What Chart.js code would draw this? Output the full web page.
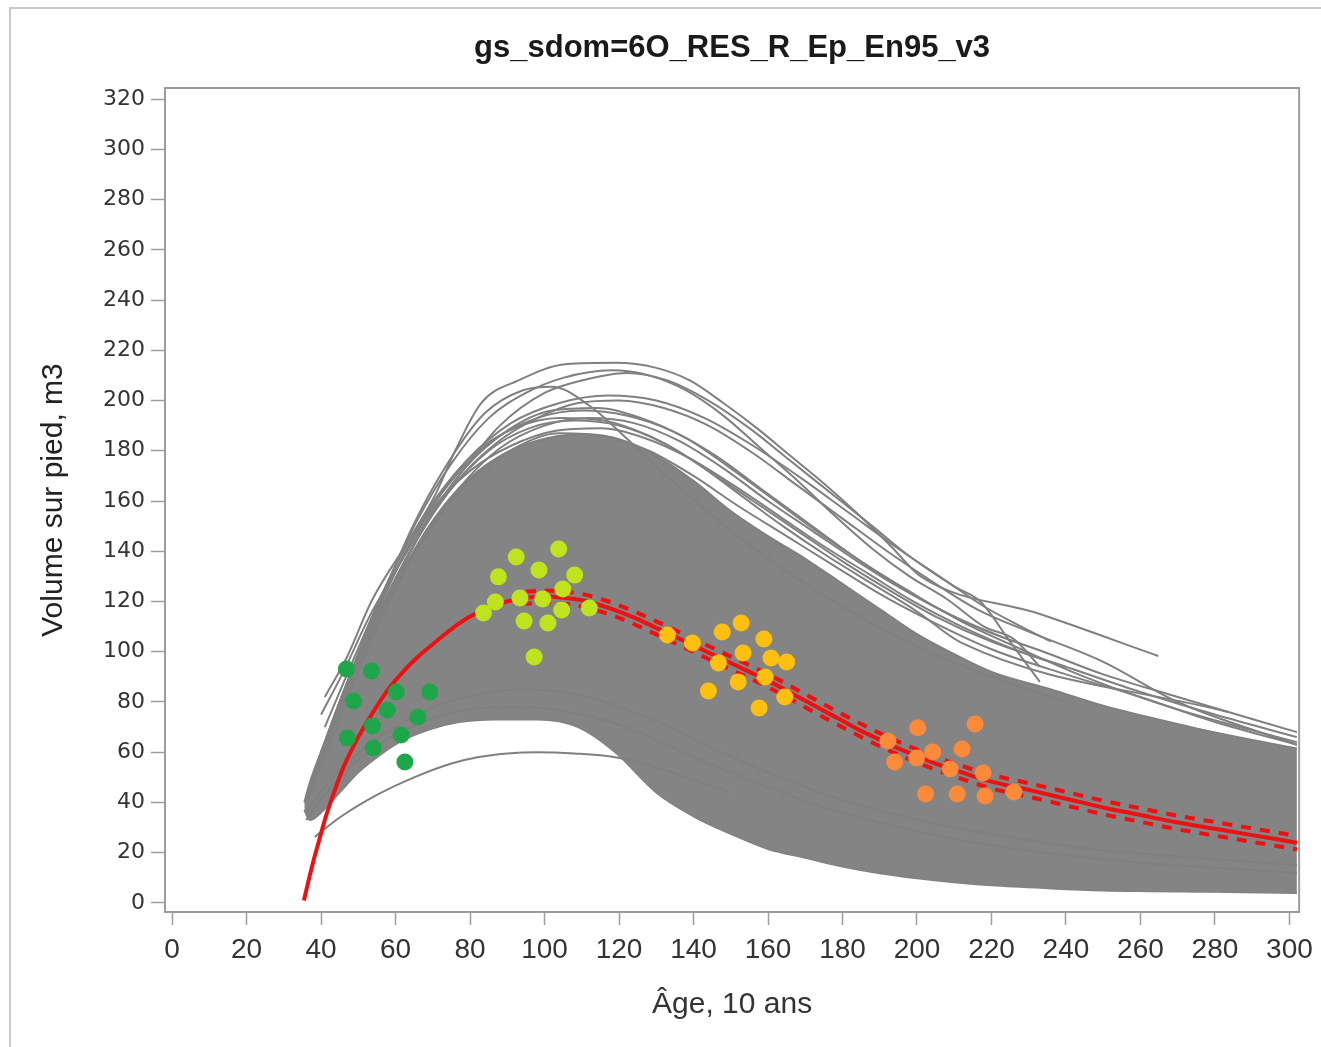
<!DOCTYPE html>
<html>
<head>
<meta charset="utf-8">
<script src="https://cdn.jsdelivr.net/npm/chart.js@4.4.1/dist/chart.umd.min.js"></script>
<style>
html,body{margin:0;padding:0;background:#fff;}
#wrap{position:relative;width:1321px;height:1047px;}
canvas{display:block;}
</style>
</head>
<body>
<div id="wrap"><canvas id="c" width="1321" height="1047"></canvas></div>
<script>
// ---------- axis ticks ----------
const xTicks = [0,20,40,60,80,100,120,140,160,180,200,220,240,260,280,300];
const yTicks = [0,20,40,60,80,100,120,140,160,180,200,220,240,260,280,300,320];

// ---------- dense band of simulated curves (envelope) ----------
const envAges  = [35.5,37,40,45,50,55,61,69,77,87,98,109,119,130,140,150,160,170,180,190,200,210,220,236,250,262,275,288,302];
const envUpper = [40,48,60,80,98,113,130,150,165,177,184,186.5,185,178,168,156,146,137,127,117,107,99,92,85,78.5,74,69.5,65.5,61.5];
const envLower = [37,33,36,44,52,58,64,69,72,73,73,70,60,44,34.5,27.5,21.5,18,14.5,11.8,9.8,8.2,7,5.8,5,4.7,4.5,4.3,4];

// ---------- individual curves (age, volume) ----------
const curveT1 = [[41,82],[47,98],[53.5,120],[62.5,142],[70.5,162],[76,180],[83,199],[93,208],[106,214.5],[119,215],[130,213],[139,208],[148,199],[157,189],[166,178],[175,167],[184,155],[193,142],[201,130],[233,115],[264.8,98.3]];
const curveT2 = [[40,75],[46,92],[53,114],[62,137],[70,156],[78,172],[88,190],[100,203],[110,208],[122,211],[133,208],[144,200],[155,189],[166,176],[177,163],[188,150],[198,138],[210,126],[217,120],[225,104],[233,88]];
const curveT3 = [[38,52],[45,80],[55,118],[65,150],[75,175],[85,193],[95,203],[105,209],[118,212],[128,210],[138,204],[148,194],[158,181],[168,168],[178,154],[188,141],[198,130],[208,121],[218,110],[226,105],[233,94]];
const curveT5 = [[38,50],[45,78],[54,112],[64,148],[74,175],[84,195],[94,204],[102,205.5],[112,198],[122,185],[132,171],[142,158],[152,146],[165,132],[180,118],[200,102],[220,90],[240,80]];
const curveT6 = [[37,45],[44,72],[52,104],[62,138],[72,163],[82,180],[92,189],[104,193],[116,192],[128,186],[140,176],[152,163],[164,150],[176,138],[188,127],[200,116],[212,103.5],[283.5,76]];
const curveT7 = [[40,60],[48,88],[57,118],[67,148],[78,172],[90,188],[102,196],[114,197],[126,193],[138,185],[150,173],[162,160],[174,147],[186,135],[198,124],[212,112],[228,101],[245,90],[270,77],[302,64]];
const curveT8 = [[36,40],[42,62],[50,92],[60,125],[70,150],[80,168],[92,181],[104,187],[116,186],[128,180],[140,170],[152,158],[165,146],[178,134],[190,123],[204,112],[220,101],[240,91],[260,82],[280,72],[302,63]];
const curveT9 = [[37,46],[44,74],[52,106],[61,135],[70,157],[80,172],[91,182],[103,188],[115,189],[127,185],[139,177],[151,166],[163,154],[175,142],[187,131],[199,120],[212,110],[226,101],[242,93],[260,84],[280,75],[302,66]];
const curveT10 = [[39,56],[46,84],[55,116],[65,146],[75,168],[86,184],[98,193],[110,196],[122,194],[134,188],[146,178],[158,165],[170,152],[182,139],[194,127],[206,117],[219,108],[234,100],[250,91],[270,82],[302,68]];
const curveT12 = [[41,70],[49,98],[58,128],[68,155],[79,176],[91,191],[104,199],[117,202],[130,200],[143,193],[156,182],[169,169],[182,155],[195,141],[207,129],[218,118],[228,110],[236,104]];
const curveT13 = [[37,44],[45,76],[54,110],[64,140],[74,163],[85,180],[96,189],[108,192],[120,190],[132,183],[144,172],[156,160],[168,148],[180,136],[192,125],[205,114],[220,104],[240,94]];
const curveT14 = [[39,52],[47,84],[56,114],[66,142],[77,165],[88,181],[100,190],[112,193],[124,191],[136,184],[148,173],[160,160],[172,148],[184,136],[196,125],[210,114],[226,104]];
const curveT15 = [[38,48],[46,82],[55,114],[65,143],[76,167],[87,183],[98,193],[109,199],[120,200],[132,197],[144,190],[156,179],[168,166],[180,153],[192,140],[204,128],[216,117],[230,108],[250,96],[270,80],[302,63]];
const curveL1 = [[38.3,26.3],[45,34],[55,43],[65,50],[75,55.5],[82,58],[90,59.5],[98,60],[108,59.5],[119,58],[130,54],[140,49],[150,44]];
const curveL2 = [[36,33],[42,45],[50,57],[60,67],[70,73.5],[80,77],[90,78],[100,77.5],[110,75],[120,71],[130,65],[140,58],[150,52],[162,45],[175,38],[190,32],[205,27],[220,23],[240,19],[260,16],[280,14],[302,12]];
const curveL3 = [[36,36],[43,50],[52,62],[62,72],[72,79],[82,83],[92,85],[102,84.5],[112,82],[122,77],[132,71],[142,64],[152,57],[165,49],[180,41],[195,35],[210,30],[230,25],[250,21],[275,18],[302,15]];

// ---------- mean curve and its confidence limits ----------
const meanAges = [35.4,36.5,38,39.5,41,43,46,50,54,58,62,66,70,75,80,85,90,95,100,105,110,115,120,125,130,135,140,145,150,155,160,165,170,175,180,185,190,195,200,205,210,215,220,230,240,250,260,270,280,290,302];
const meanVals = [1,8,17,25,33,42,54,66,76,85,92,98,103,109,114,117.5,120,121.5,122,121.5,120.5,118.5,116,113,109.5,106,102.5,99,95.5,92,88.5,84.5,80.5,76.5,72.5,68.5,65,61.5,58.5,55.5,53,50.5,48.3,45,41.5,38,35,32,29.5,27,24];
const ciAges  = [95,100,110,120,130,140,150,160,170,180,190,200,210,220,230,240,250,260,270,280,290,302];
const ciUpper = [123.9,124.4,123,118.5,112.1,105.1,98.1,91.1,83.1,75.1,67.6,61.1,55.6,51,47.7,44.2,40.7,37.7,34.7,32.2,29.7,26.7];
const ciLower = [119.1,119.6,118,113.5,106.9,99.9,92.9,85.9,77.9,69.9,62.4,55.9,50.4,45.6,42.3,38.8,35.3,32.3,29.3,26.8,24.3,21.3];

// ---------- observed plots ----------
const obsDarkGreen = [[46.8,93.1],[53.5,92.3],[48.7,80.4],[60.2,84],[69.2,84],[57.8,76.8],[53.8,70.4],[66,74],[47.1,65.7],[61.5,66.9],[54,61.7],[62.5,56.1]];
const obsLightGreen = [[92.4,137.7],[103.8,140.9],[87.6,129.8],[98.5,132.5],[108.1,130.5],[104.9,125],[86.8,119.8],[93.4,121.4],[99.5,121],[83.6,115.4],[104.6,116.6],[112,117.4],[94.5,112.2],[100.9,111.4],[97.2,97.9]];
const obsYellow = [[133,106.7],[139.7,103.5],[147.7,107.9],[152.8,111.4],[158.9,105.1],[153.3,99.5],[160.8,97.5],[165,95.9],[146.7,95.5],[159.2,89.9],[152,88],[164.5,82],[144,84.4],[157.6,77.6]];
const obsOrange = [[192.2,64.5],[200.2,69.7],[215.6,71.2],[204.2,60.1],[212.1,61.3],[194,56.1],[199.9,57.7],[208.9,53.3],[217.7,51.7],[226,44.2],[202.3,43.4],[210.8,43.4],[218.3,42.6]];

// ---------- build ----------
const pts = a => a.map(p => ({x:p[0], y:p[1]}));
const zipXY = (xs, ys) => xs.map((x,i) => ({x:x, y:ys[i]}));
const GRAY = '#808080';
const RED = '#ee1111';
const strandList = [curveT1,curveT2,curveT3,curveT5,curveT6,curveT7,curveT8,curveT9,curveT10,curveT12,curveT13,curveT14,curveT15,curveL1,curveL2,curveL3];

const datasets = [];
[[obsDarkGreen,'#1fa64a'],[obsLightGreen,'#bfe31f'],[obsYellow,'#fdc010'],[obsOrange,'#fb8a3a']].forEach(([d,c]) => {
  datasets.push({data: pts(d), showLine:false, pointRadius:8.5, pointHoverRadius:8.5, pointBackgroundColor:c, pointBorderWidth:0, order:0});
});
datasets.push({data: zipXY(meanAges, meanVals), showLine:true, borderColor:RED, borderWidth:4, pointRadius:0, cubicInterpolationMode:'monotone', order:1});
datasets.push({data: zipXY(ciAges, ciUpper), showLine:true, borderColor:RED, borderWidth:4, borderDash:[10,9], pointRadius:0, cubicInterpolationMode:'monotone', order:2});
datasets.push({data: zipXY(ciAges, ciLower), showLine:true, borderColor:RED, borderWidth:4, borderDash:[10,9], borderDashOffset:4, pointRadius:0, cubicInterpolationMode:'monotone', order:2});
strandList.forEach(s => {
  datasets.push({data: pts(s), showLine:true, borderColor:GRAY, borderWidth:2, pointRadius:0, cubicInterpolationMode:'monotone', order:3});
});
datasets.push({data: zipXY(envAges, envUpper), showLine:true, borderColor:GRAY, borderWidth:2, pointRadius:0, cubicInterpolationMode:'monotone', fill:'+1', backgroundColor:'#848484', order:4});
datasets.push({data: zipXY(envAges, envLower), showLine:true, borderColor:GRAY, borderWidth:2, pointRadius:0, cubicInterpolationMode:'monotone', fill:false, order:4});

const framePlugin = {
  id:'frame',
  beforeDraw(chart){
    const c = chart.ctx;
    c.save();
    c.fillStyle = '#fff';
    c.fillRect(0,0,chart.width,chart.height);
    c.strokeStyle = '#c9c9c9';
    c.lineWidth = 2;
    c.beginPath();
    c.moveTo(10, chart.height); c.lineTo(10, 8); c.lineTo(chart.width, 8);
    c.stroke();
    c.restore();
  },
  afterDraw(chart){
    const a = chart.chartArea, c = chart.ctx;
    c.save();
    c.strokeStyle = '#9c9c9c';
    c.lineWidth = 2;
    c.strokeRect(a.left, a.top, a.right - a.left, a.bottom - a.top);
    c.restore();
  }
};

new Chart(document.getElementById('c'), {
  type:'scatter',
  data:{datasets},
  plugins:[framePlugin],
  options:{
    responsive:false,
    animation:false,
    events:[],
    layout:{padding:{left:0,right:12,top:0,bottom:0}},
    plugins:{
      legend:{display:false},
      tooltip:{enabled:false},
      title:{display:true, text:'gs_sdom=6O_RES_R_Ep_En95_v3', fullSize:false, color:'#1a1a1a',
        font:{family:'"Liberation Sans",Arial,sans-serif', size:31, weight:'bold', lineHeight:1.2},
        padding:{top:30,bottom:20.8}}
    },
    scales:{
      x:{type:'linear', min:-1.9, max:302.6,
        afterBuildTicks(s){ s.ticks = xTicks.map(v => ({value:v})); },
        afterFit(s){ s.height = 135; },
        grid:{drawOnChartArea:false, drawTicks:true, tickLength:13, tickColor:'#9c9c9c', tickWidth:1.5},
        border:{display:false},
        ticks:{color:'#333', padding:8, maxRotation:0, autoSkip:false,
          font:{family:'"Liberation Sans",Arial,sans-serif', size:28}},
        title:{display:true, text:'Âge, 10 ans', color:'#333', padding:{top:0,bottom:24},
          font:{family:'"Liberation Sans",Arial,sans-serif', size:30}}
      },
      y:{type:'linear', min:-3.6, max:324.4,
        afterBuildTicks(s){ s.ticks = yTicks.map(v => ({value:v})); },
        afterFit(s){ s.width = 165; },
        grid:{drawOnChartArea:false, drawTicks:true, tickLength:14, tickColor:'#9c9c9c', tickWidth:1.5},
        border:{display:false},
        ticks:{color:'#333', padding:6, autoSkip:false,
          font:{family:'"DejaVu Sans",Verdana,sans-serif', size:22}},
        title:{display:true, text:'Volume sur pied, m3', color:'#222', padding:{top:36,bottom:0},
          font:{family:'"Liberation Sans",Arial,sans-serif', size:30}}
      }
    }
  }
});
</script>
</body>
</html>
